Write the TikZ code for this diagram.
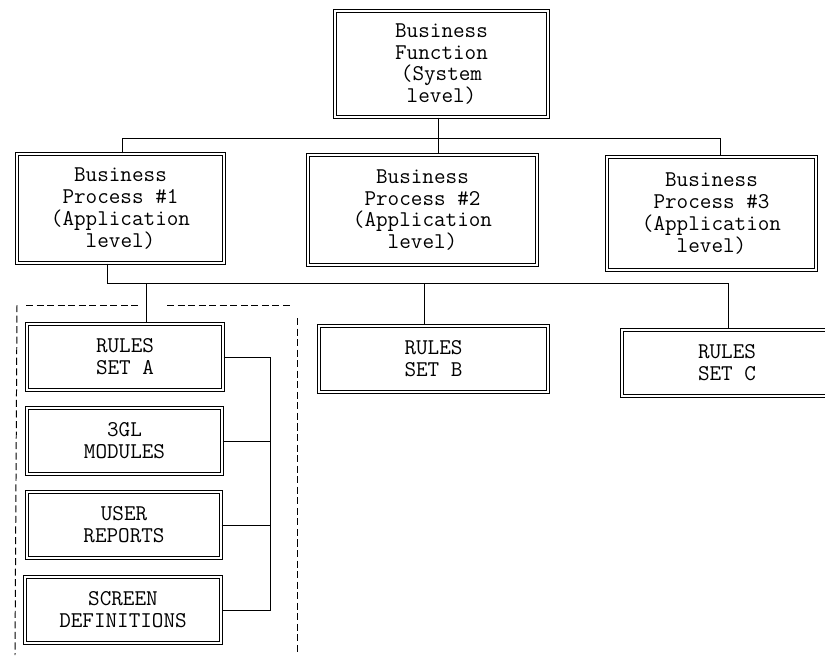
\documentclass[tikz,border=0pt]{standalone}
\usepackage{fontspec}
\begin{document}
\begin{tikzpicture}[x=0.025cm, y=-0.025cm, line width=0.7pt,
		blk/.style={draw, double, line width=0.8pt, double distance=1.5pt,
		inner sep=0pt, align=center, font=\ttfamily\fontsize{16}{15.5}\selectfont},
		grp/.style={dash pattern=on 5pt off 2.5pt} ]
	\useasboundingbox (0,0) rectangle (825,659);
	% top and application level
	\node[blk, minimum width=5.33cm, minimum height=2.65cm] (fn) at (441.5,64) {Business\\Function\\(System\\ level)};
	\node[blk, minimum width=5.18cm, minimum height=2.73cm] (bp1) at (120.5,208.5) {Business\\Process \#1\\(Application\\level)};
	\node[blk, minimum width=5.73cm, minimum height=2.75cm] (bp2) at (422.5,210) {Business\\Process \#2\\(Application\\level)};
	\node[blk, minimum width=5.23cm, minimum height=2.83cm] (bp3) at (711.5,213.5) {Business\\Process \#3\\(Application\\level)};
	% rules sets
	\node[blk, minimum width=4.9cm, minimum height=1.65cm] (ra) at (125,357) {RULES\\SET A};
	\node[blk, minimum width=4.88cm, minimum height=1.65cm] (gl) at (124.5,441) {3GL\\MODULES};
	\node[blk, minimum width=4.85cm, minimum height=1.65cm] (ur) at (124,525) {USER\\REPORTS};
	\node[blk, minimum width=4.9cm, minimum height=1.65cm] (sd) at (123,610) {SCREEN\\DEFINITIONS};
	\node[blk, minimum width=5.73cm, minimum height=1.65cm] (rb) at (433.5,359) {RULES\\SET B};
	\node[blk, minimum width=5.25cm, minimum height=1.65cm] (rc) at (727,363) {RULES\\SET C};
	\coordinate (t1) at (122,138); \coordinate (tm) at (438,138); \coordinate (t3) at (720,138);
	\coordinate (u1) at (107,283); \coordinate (ua) at (146,283);
	\coordinate (ub) at (424,283); \coordinate (u3) at (728,283);
	\coordinate (s) at (270,0);
	\draw (bp1.north -| t1) -- (t1) -- (t3) -- (bp3.north -| t3);
	\draw (fn.south -| tm) -- (bp2.north -| tm);
	\draw (bp1.south -| u1) -- (u1) -- (u3) -- (rc.north -| u3);
	\draw (ua) -- (ra.north -| ua);
	\draw (ub) -- (rb.north -| ub);
	\draw (ra.east) -- (ra.east -| s) -- (sd.east -| s) -- (sd.east);
	\draw (gl.east) -- (gl.east -| s);
	\draw (ur.east) -- (ur.east -| s);
	% dashed group
	\draw[grp] (26,305) -- (138,305);
	\draw[grp] (167,305) -- (290,305);
	\draw[grp] (17,305) -- (15,655);
	\draw[grp] (297,318) -- (297,655);
\end{tikzpicture}
\end{document}
